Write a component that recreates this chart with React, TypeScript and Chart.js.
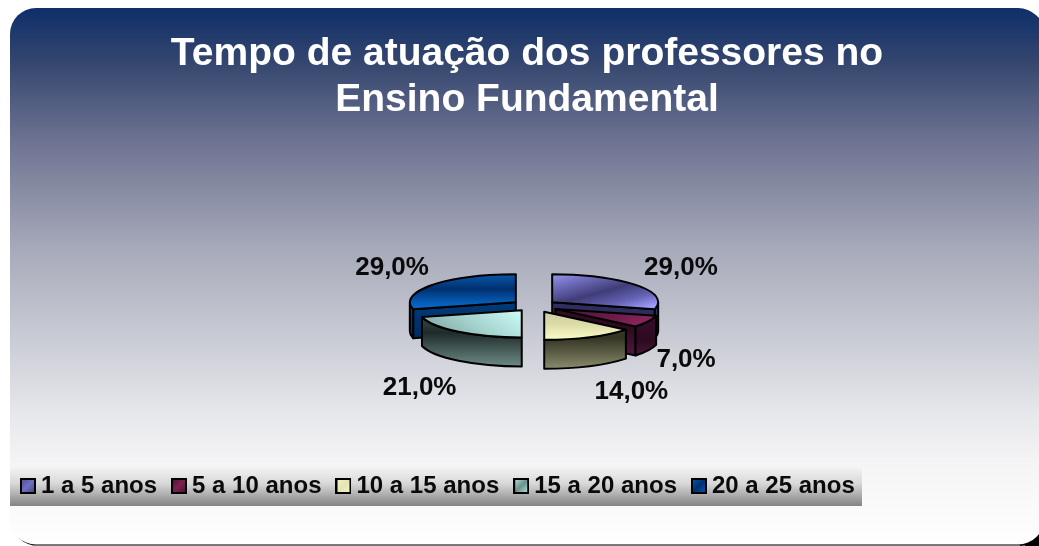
import React, { useEffect, useRef } from "react";
import { Chart, registerables } from "chart.js";

Chart.register(...registerables);

const titleLines = ["Tempo de atuação dos professores no", "Ensino Fundamental"];
const categories = ["1 a 5 anos", "5 a 10 anos", "10 a 15 anos", "15 a 20 anos", "20 a 25 anos"];
const values = [29, 7, 14, 21, 29];
const pctLabels = ["29,0%", "7,0%", "14,0%", "21,0%", "29,0%"];
const explode = [23, 24, 24, 20, 23];
const radii = [106, 104, 106, 103, 106];

const FONT = "'Liberation Sans', Arial, sans-serif";
const W = 1039, H = 546;
const SQUASH = 0.265, DEPTH = 29, BASE_R = 106;
const TARGET_X = 534, TARGET_Y = 306;
const PAINT_ORDER = [4, 0, 1, 3, 2];
const LABEL_NUDGE = [[45, -17], [38, 38], [42, 55], [-39, 56], [-40, -17]];

type Stop = [number, string];
type G = { v: [number, number, number, number]; s: Stop[] };
const topGrad: G[] = [
  { v: [0.1, -1.15, 1.2, -0.1], s: [[0, "#a09df8"], [0.28, "#6d6ab8"], [0.55, "#3f3d78"], [0.8, "#6563b4"], [1, "#9d9af8"]] },
  { v: [0.2, 0.2, 1.2, 0.6], s: [[0, "#4a1436"], [0.55, "#6d1c48"], [1, "#962b62"]] },
  { v: [0, 0.1, 0, 1.2], s: [[0, "#c9c99b"], [0.5, "#dcdcaa"], [1, "#fbfbc6"]] },
  { v: [-1.1, 0.7, -0.1, 0.3], s: [[0, "#7fa5a0"], [0.5, "#a5d4cf"], [1, "#caf9f6"]] },
  { v: [0, -1.2, 0, 0], s: [[0, "#0a5cb2"], [0.5, "#003070"], [0.85, "#0658ae"], [1, "#0a64c4"]] },
];
const sideStops: Stop[][] = [
  [[0, "#3a3870"], [1, "#1e1d42"]],
  [[0, "#3c0f2c"], [0.55, "#2c0a20"], [1, "#5e1d46"]],
  [[0, "#45452f"], [0.45, "#333323"], [1, "#8b8b6c"]],
  [[0, "#3d5752"], [0.4, "#1e2b2a"], [1, "#6d8b86"]],
  [[0, "#00478f"], [1, "#00224e"]],
];
const swatchStops: Stop[][] = [
  [[0, "#4b4a90"], [0.5, "#6f6ec0"], [1, "#3b3a78"]],
  [[0, "#4a1436"], [0.5, "#7c2050"], [1, "#40102e"]],
  [[0, "#f3f3c4"], [0.5, "#e4e4b4"], [1, "#f8f8c8"]],
  [[0, "#c4f0ec"], [0.5, "#6f918d"], [1, "#c4f0ec"]],
  [[0, "#0a5cb2"], [0.5, "#003070"], [1, "#0a60bc"]],
];

function swatch(stops: Stop[]) {
  const c = document.createElement("canvas");
  c.width = 16; c.height = 16;
  const x = c.getContext("2d")!;
  const g = x.createLinearGradient(0, 0, 16, 16);
  stops.forEach(([o, col]) => g.addColorStop(o, col));
  x.fillStyle = g;
  x.fillRect(1, 1, 14, 14);
  x.strokeStyle = "#000";
  x.lineWidth = 2;
  x.strokeRect(1, 1, 14, 14);
  return c;
}

function areaCenter(chart: any) {
  const a = chart.chartArea;
  return { x: (a.left + a.right) / 2, y: (a.top + a.bottom) / 2 };
}

function geom(chart: any, arc: any) {
  const o = areaCenter(chart);
  const mid = (arc.startAngle + arc.endAngle) / 2;
  const R = arc.outerRadius;
  const ax = arc.x + (TARGET_X - o.x);
  const ay = TARGET_Y + (arc.y - o.y) * SQUASH;
  return { mid, R, ax, ay, a0: arc.startAngle, a1: arc.endAngle, ry: R * SQUASH };
}

const pie3d = {
  id: "pie3d",
  afterDatasetsUpdate(chart: any) {
    const o = areaCenter(chart);
    chart.getDatasetMeta(0).data.forEach((arc: any, i: number) => {
      const mid = (arc.startAngle + arc.endAngle) / 2;
      arc.x = o.x + Math.cos(mid) * explode[i];
      arc.y = o.y + Math.sin(mid) * explode[i];
      arc.outerRadius = radii[i];
    });
  },
  beforeDraw(chart: any) {
    const c = chart.ctx;
    c.save();
    c.fillStyle = "#fff";
    c.fillRect(0, 0, W, H);
    c.fillStyle = "#000";
    c.beginPath();
    c.roundRect(12, 10, 1034, 536, 26);
    c.fill();
    c.fillRect(1025, 530, 14, 16);
    const g = c.createLinearGradient(0, 8, 0, 546);
    [[0, "#0e2f69"], [0.1, "#34466f"], [0.24, "#6b7190"], [0.44, "#a5a8b8"], [0.75, "#e6e7eb"], [0.85, "#f5f5f6"], [1, "#ffffff"]]
      .forEach(([o, col]: any) => g.addColorStop(o, col));
    c.fillStyle = g;
    c.beginPath();
    c.roundRect(10, 8, 1034, 536.6, 26);
    c.fill();
    c.fillStyle = "#777";
    c.fillRect(33, 544.6, 987, 1.4);
    const b = c.createLinearGradient(0, 465, 0, 506);
    b.addColorStop(0, "#f7f7f7");
    b.addColorStop(0.45, "#d8d8d8");
    b.addColorStop(1, "#848484");
    c.fillStyle = b;
    c.fillRect(10, 465, 852, 41);
    c.restore();
  },
  beforeDatasetsDraw(chart: any) {
    const c = chart.ctx;
    const arcs = chart.getDatasetMeta(0).data;
    const depth = DEPTH;
    c.save();
    PAINT_ORDER.forEach((i) => {
      const { R, ry, ax, ay, a0, a1 } = geom(chart, arcs[i]);
      const grad = c.createLinearGradient(0, ay - ry, 0, ay + ry + depth);
      const grad2 = c.createLinearGradient(0, ay, 0, ay + ry + depth);
      sideStops[i].forEach(([o, col]) => { grad.addColorStop(o, col); grad2.addColorStop(o, col); });
      c.strokeStyle = "#000";
      c.lineWidth = 2;
      c.lineJoin = "round";
      const face = (a: number) => {
        const ex = ax + R * Math.cos(a), ey = ay + ry * Math.sin(a);
        c.beginPath();
        c.moveTo(ax, ay);
        c.lineTo(ex, ey);
        c.lineTo(ex, ey + depth);
        c.lineTo(ax, ay + depth);
        c.closePath();
        c.fillStyle = grad;
        c.fill();
        c.stroke();
      };
      if (Math.cos(a0) < -1e-6) face(a0);
      if (Math.cos(a1) > 1e-6) face(a1);
      const s = Math.max(a0, 0), e = Math.min(a1, Math.PI);
      if (e > s) {
        c.beginPath();
        c.ellipse(ax, ay, R, ry, 0, s, e);
        c.ellipse(ax, ay + depth, R, ry, 0, e, s, true);
        c.closePath();
        c.fillStyle = grad2;
        c.fill();
        c.stroke();
      }
    });
    c.restore();
    const o = areaCenter(chart);
    c.save();
    c.translate(TARGET_X - o.x, TARGET_Y);
    c.scale(1, SQUASH);
    c.translate(0, -o.y);
  },
  afterDatasetsDraw(chart: any) {
    const c = chart.ctx;
    c.restore();
    const arcs = chart.getDatasetMeta(0).data;
    c.save();
    c.strokeStyle = "#000";
    c.lineWidth = 2;
    c.lineJoin = "round";
    arcs.forEach((arc: any) => {
      const { R, ry, ax, ay, a0, a1 } = geom(chart, arc);
      c.beginPath();
      c.moveTo(ax, ay);
      c.ellipse(ax, ay, R, ry, 0, a0, a1);
      c.closePath();
      c.stroke();
    });
    c.fillStyle = "#0a0a0a";
    c.font = `bold 26px ${FONT}`;
    c.textAlign = "center";
    c.textBaseline = "middle";
    arcs.forEach((arc: any, i: number) => {
      const { mid, R, ry, ax, ay } = geom(chart, arc);
      const px = ax + R * Math.cos(mid), py = ay + ry * Math.sin(mid);
      c.fillText(pctLabels[i], px + LABEL_NUDGE[i][0], py + LABEL_NUDGE[i][1]);
    });
    c.restore();
  },
};

export default function App() {
  const ref = useRef<HTMLCanvasElement>(null);
  useEffect(() => {
    document.body.style.margin = "0";
    const chart = new Chart(ref.current!, {
      type: "pie",
      data: {
        labels: categories,
        datasets: [{
          data: values,
          borderWidth: 0,
          backgroundColor: (ctx: any) => {
            const { chartArea, ctx: c } = ctx.chart;
            const i = ctx.dataIndex;
            if (!chartArea) return "#888";
            const cx = (chartArea.left + chartArea.right) / 2;
            const cy = (chartArea.top + chartArea.bottom) / 2;
            const Rr = 106;
            const { v, s } = topGrad[i];
            const g = c.createLinearGradient(cx + v[0] * Rr, cy + v[1] * Rr, cx + v[2] * Rr, cy + v[3] * Rr);
            s.forEach(([o, col]) => g.addColorStop(o, col));
            return g;
          },
        }],
      },
      options: {
        responsive: false,
        animation: false,
        events: [],
        radius: BASE_R,
        layout: { padding: { left: 6, right: -9, top: 31, bottom: 38 } },
        plugins: {
          tooltip: { enabled: false },
          title: {
            display: true,
            text: titleLines,
            color: "#ffffff",
            font: { family: FONT, weight: "bold", size: 39, lineHeight: 1.19 },
            padding: { top: 0, bottom: 10 },
          },
          legend: {
            display: true,
            position: "bottom",
            align: "start",
            labels: {
              color: "#0a0a0a",
              font: { family: FONT, weight: "bold", size: 24 },
              usePointStyle: true,
              pointStyleWidth: 2,
              padding: 21,
              generateLabels: (ch: any) =>
                (Chart as any).overrides.doughnut.plugins.legend.labels.generateLabels(ch).map((it: any, i: number) => ({
                  ...it,
                  pointStyle: swatch(swatchStops[i]),
                })),
            },
          },
        },
      } as any,
      plugins: [pie3d as any],
    } as any);
    return () => chart.destroy();
  }, []);
  return <canvas ref={ref} width={W} height={H} style={{ display: "block" }} />;
}
